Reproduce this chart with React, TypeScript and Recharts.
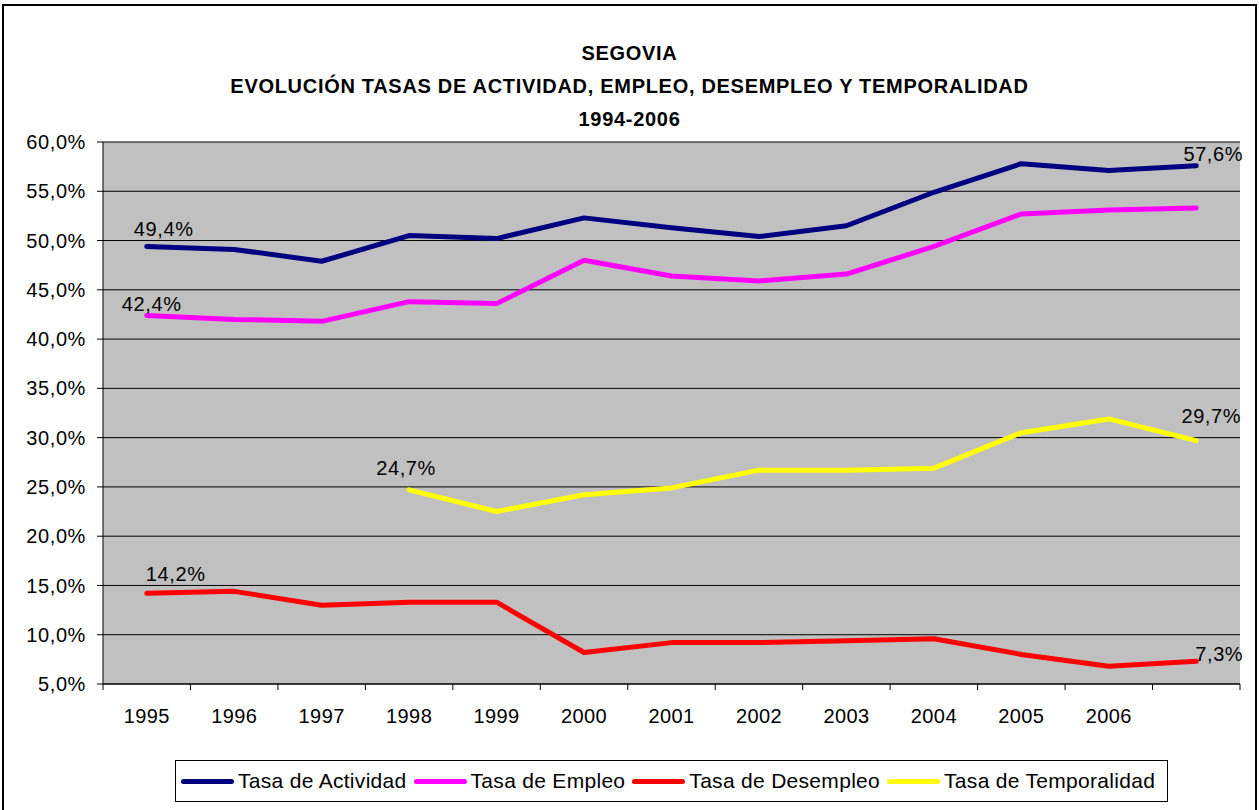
import {
  LineChart,
  Line,
  XAxis,
  YAxis,
  CartesianGrid,
  LabelList,
} from "recharts";

// categories (the last band has no label in the original)
const years = ["1995", "1996", "1997", "1998", "1999", "2000", "2001", "2002", "2003", "2004", "2005", "2006", ""];

const actividad = [49.4, 49.1, 47.9, 50.5, 50.2, 52.3, 51.3, 50.4, 51.5, 54.9, 57.8, 57.1, 57.6];
const empleo = [42.4, 42.0, 41.8, 43.8, 43.6, 48.0, 46.4, 45.9, 46.6, 49.4, 52.7, 53.1, 53.3];
const desempleo = [14.2, 14.4, 13.0, 13.3, 13.3, 8.2, 9.2, 9.2, 9.4, 9.6, 8.0, 6.8, 7.3];
const temporalidad = [null, null, null, 24.7, 22.5, 24.2, 24.9, 26.7, 26.7, 26.9, 30.5, 31.9, 29.7];

const yTicks = [5, 10, 15, 20, 25, 30, 35, 40, 45, 50, 55, 60];

const titleLines = [
  "SEGOVIA",
  "EVOLUCIÓN TASAS DE ACTIVIDAD, EMPLEO, DESEMPLEO Y TEMPORALIDAD",
  "1994-2006",
];

const series = [
  { key: "actividad", name: "Tasa de Actividad", color: "#000080" },
  { key: "empleo", name: "Tasa de Empleo", color: "#FF00FF" },
  { key: "desempleo", name: "Tasa de Desempleo", color: "#FF0000" },
  { key: "temporalidad", name: "Tasa de Temporalidad", color: "#FFFF00" },
];

// which points carry a value label, and where the label sits
const labelSpots: any = {
  actividad: { 0: [17, -17], 12: [17, -12] },
  empleo: { 0: [5, -11] },
  desempleo: { 0: [29, -19], 12: [23, -7] },
  temporalidad: { 3: [-3, -22], 12: [15, -25] },
};

const data = years.map((year, i) => ({
  year,
  actividad: actividad[i],
  empleo: empleo[i],
  desempleo: desempleo[i],
  temporalidad: temporalidad[i],
}));

const FONT = "'Liberation Sans', Arial, sans-serif";
const W = 1259;
const PLOT_LEFT = 103;
const PLOT_RIGHT = 1240;
const BAND = (PLOT_RIGHT - PLOT_LEFT) / years.length;

const pct = (v: number) => v.toFixed(1).replace(".", ",") + "%";

const XTick = (props: any) => {
  const { x, y, payload, index } = props;
  const last = index === years.length - 1;
  return (
    <g>
      <line x1={x - BAND / 2} x2={x - BAND / 2} y1={y} y2={y + 6} stroke="#000" />
      {last && <line x1={x + BAND / 2} x2={x + BAND / 2} y1={y} y2={y + 6} stroke="#000" />}
      <text x={x} y={y + 39} textAnchor="middle" fontSize={20} fontFamily={FONT} letterSpacing={0.4} fill="#000">
        {payload.value}
      </text>
    </g>
  );
};

const makeLabel = (key: string) => (props: any) => {
  const spot = labelSpots[key][props.index];
  if (!spot || props.value == null) return null;
  const vb = props.viewBox || {};
  const x = props.x ?? vb.x;
  const y = props.y ?? vb.y;
  return (
    <text
      x={x + spot[0]}
      y={y + spot[1] + 7}
      textAnchor="middle"
      fontSize={20}
      fontFamily={FONT}
      letterSpacing={0.6}
      fill="#000"
    >
      {pct(props.value)}
    </text>
  );
};

export default function App() {
  return (
    <div
      style={{
        position: "absolute",
        left: 0,
        top: 0,
        width: W,
        height: 810,
        overflow: "hidden",
        background: "#fff",
        fontFamily: FONT,
      }}
    >
      <div
        style={{
          position: "absolute",
          left: 2,
          top: 4,
          width: 1255,
          height: 830,
          border: "2px solid #000",
          boxSizing: "border-box",
        }}
      />
      <div style={{ position: "absolute", left: 0, top: 37, width: W, textAlign: "center" }}>
        {titleLines.map((t) => (
          <div
            key={t}
            style={{ fontWeight: "bold", fontSize: 20, lineHeight: "33px", letterSpacing: 0.7, color: "#000" }}
          >
            {t}
          </div>
        ))}
      </div>
      <div style={{ position: "absolute", left: 0, top: 0 }}>
        <LineChart width={W} height={740} data={data} margin={{ top: 142, right: 19, bottom: 0, left: 0 }}>
          <CartesianGrid vertical={false} stroke="#000" fill="#C0C0C0" fillOpacity={1} />
          <XAxis
            dataKey="year"
            scale="band"
            interval={0}
            height={56}
            tickSize={0}
            tickMargin={0}
            tickLine={false}
            axisLine={{ stroke: "#000" }}
            tick={<XTick />}
          />
          <XAxis
            xAxisId="top"
            dataKey="year"
            scale="band"
            orientation="top"
            height={0}
            tick={false}
            tickLine={false}
            axisLine={{ stroke: "#808080", strokeWidth: 2 }}
          />
          <YAxis
            domain={[5, 60]}
            ticks={yTicks}
            width={PLOT_LEFT}
            tickSize={6}
            tickMargin={11}
            tickFormatter={pct}
            axisLine={{ stroke: "#000" }}
            tickLine={{ stroke: "#000" }}
            tick={{ fill: "#000", fontSize: 20, fontFamily: FONT, letterSpacing: 0.6 }}
          />
          <YAxis
            yAxisId="right"
            orientation="right"
            width={0}
            tick={false}
            tickLine={false}
            axisLine={{ stroke: "#808080", strokeWidth: 2 }}
          />
          {series.map((s) => (
            <Line
              key={s.key}
              type="linear"
              dataKey={s.key}
              name={s.name}
              stroke={s.color}
              strokeWidth={5}
              strokeLinecap="round"
              strokeLinejoin="round"
              dot={false}
              activeDot={false}
              isAnimationActive={false}
            >
              <LabelList dataKey={s.key} content={makeLabel(s.key)} />
            </Line>
          ))}
        </LineChart>
      </div>
      <div
        style={{
          position: "absolute",
          left: 175,
          top: 760,
          width: 993,
          height: 42,
          border: "1px solid #000",
          boxSizing: "border-box",
          display: "flex",
          alignItems: "center",
          paddingLeft: 5,
          whiteSpace: "nowrap",
        }}
      >
        {series.map((s) => (
          <div key={s.key} style={{ display: "flex", alignItems: "center", marginRight: 7, flexShrink: 0 }}>
            <span
              style={{
                display: "inline-block",
                width: 53,
                height: 5,
                borderRadius: 3,
                background: s.color,
                marginRight: 4,
              }}
            />
            <span style={{ fontSize: 21, letterSpacing: 0.3, color: "#000" }}>{s.name}</span>
          </div>
        ))}
      </div>
    </div>
  );
}
